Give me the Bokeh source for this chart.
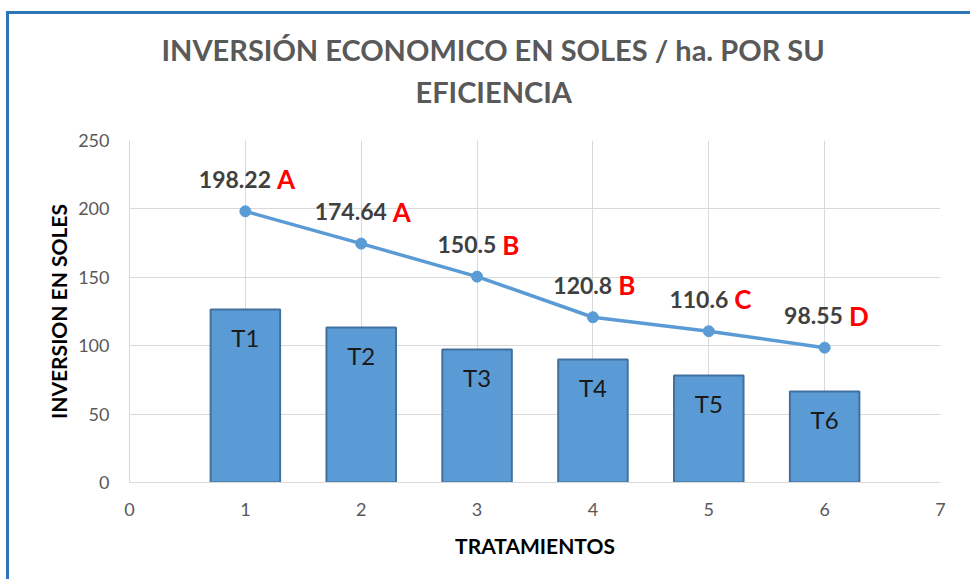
from bokeh.plotting import figure
from bokeh.models import ColumnDataSource, FixedTicker, Range1d, Title
from bokeh.core.properties import value
from bokeh.embed import file_html
from bokeh.resources import INLINE

# ---- data ----
tratamientos = [1, 2, 3, 4, 5, 6]
bar_names = ["T1", "T2", "T3", "T4", "T5", "T6"]
bar_values = [126.5, 113.3, 97.2, 89.9, 78.2, 66.5]
line_values = [198.22, 174.64, 150.5, 120.8, 110.6, 98.55]
line_texts = ["198.22", "174.64", "150.5", "120.8", "110.6", "98.55"]
letters = ["A", "A", "B", "B", "C", "D"]
x_ticks = [0, 1, 2, 3, 4, 5, 6, 7]
y_ticks = [0, 50, 100, 150, 200, 250]
title_line1 = "INVERSIÓN ECONOMICO EN SOLES / ha. POR SU"
title_line2 = "EFICIENCIA"

FONT = "Lato"
NUM_FS = 23
LET_FS = 26
BLUE = "#5B9BD5"

# approximate glyph widths (em) for centring the two-colour labels
def num_width(s):
    return sum(0.27 if c == "." else 0.58 for c in s) * NUM_FS

let_w = {"A": 0.68, "B": 0.66, "C": 0.64, "D": 0.73}
gap = 6
num_xoff, let_xoff = [], []
for t, l in zip(line_texts, letters):
    nw = num_width(t)
    lw = let_w[l] * LET_FS
    total = nw + gap + lw
    left = -total / 2 + 1
    num_xoff.append(left + nw)
    let_xoff.append(left + nw + gap)

src_bar = ColumnDataSource(dict(x=tratamientos, top=bar_values, name=bar_names))
src_line = ColumnDataSource(dict(x=tratamientos, y=line_values, num=line_texts,
                                 let=letters, nx=num_xoff, lx=let_xoff))

p = figure(width=964, height=568, x_range=Range1d(0, 7), y_range=Range1d(0, 250),
           output_backend="svg", toolbar_location=None,
           min_border_left=120, min_border_right=33, min_border_top=126,
           min_border_bottom=100)
p.styles = {"margin-left": "6px", "margin-top": "11px",
            "border-left": "3px solid #2E75B6", "border-top": "3px solid #2E75B6"}
p.outline_line_color = None
p.background_fill_color = "white"
p.border_fill_color = "white"

# title: two lines, the first added sits nearest the plot frame
title_style = dict(align="left", text_font=FONT, text_font_style="bold",
                   text_font_size="29px", text_color="#595959")
p.add_layout(Title(text=title_line2, offset=286, standoff=60,
                   vertical_align="top", **title_style), "above")
p.add_layout(Title(text=title_line1, offset=32, standoff=-46,
                   vertical_align="bottom", **title_style), "above")

p.xaxis.ticker = FixedTicker(ticks=x_ticks)
p.yaxis.ticker = FixedTicker(ticks=y_ticks)
for ax in (p.xaxis, p.yaxis):
    ax.axis_line_color = "#D9D9D9"
    ax.major_tick_line_color = None
    ax.minor_tick_line_color = None
    ax.major_label_text_font = FONT
    ax.major_label_text_font_size = "18px"
    ax.major_label_text_color = "#595959"
    ax.axis_label_text_font = FONT
    ax.axis_label_text_font_style = "bold"
    ax.axis_label_text_font_size = "21px"
    ax.axis_label_text_color = "#000000"
p.xaxis.major_label_standoff = 14
p.yaxis.major_label_standoff = 14
p.xaxis.axis_label = "TRATAMIENTOS"
p.yaxis.axis_label = "INVERSION EN SOLES"
p.xaxis.axis_label_standoff = 14
p.yaxis.axis_label_standoff = 4

p.xgrid.ticker = FixedTicker(ticks=x_ticks)
p.ygrid.ticker = FixedTicker(ticks=y_ticks)
p.grid.grid_line_color = "#D9D9D9"
p.grid.grid_line_width = 1

p.vbar(x="x", top="top", bottom=0, width=0.6, source=src_bar,
       fill_color=BLUE, line_color="#41719C", line_width=2)
p.text(x="x", y="top", text="name", source=src_bar, y_offset=28,
       text_align="center", text_baseline="middle", text_font=value(FONT),
       text_font_size="24px", text_color="#1A1A1A")

p.line(x="x", y="y", source=src_line, line_width=3.5, line_color=BLUE)
p.scatter(x="x", y="y", source=src_line, size=11, fill_color=BLUE, line_color=BLUE)

p.text(x="x", y="y", text="num", source=src_line, x_offset="nx", y_offset=-32,
       text_align="right", text_baseline="middle", text_font=value(FONT),
       text_font_style="bold", text_font_size=f"{NUM_FS}px", text_color="#404040")
p.text(x="x", y="y", text="let", source=src_line, x_offset="lx", y_offset=-32,
       text_align="left", text_baseline="middle", text_font=value(FONT),
       text_font_style="bold", text_font_size=f"{LET_FS}px", text_color="#FF0000")

open("out.html", "w").write(file_html(p, INLINE))
